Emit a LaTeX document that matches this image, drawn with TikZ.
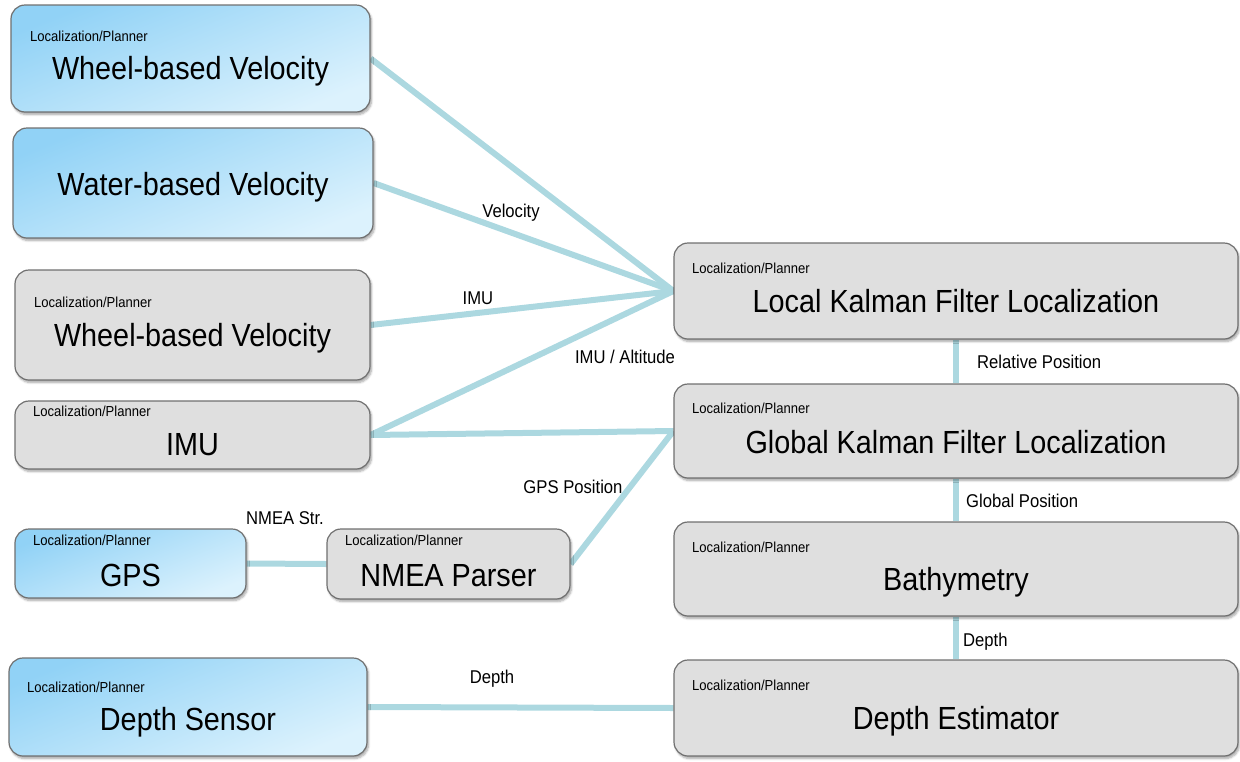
\documentclass[tikz,border=0pt]{standalone}
\usepackage{fontspec}
\setmainfont{Liberation Sans}
\newfontfamily\narrowfont[FakeStretch=0.9]{Liberation Sans}
\usetikzlibrary{shadows.blur}
\pgfdeclarelayer{background}
\pgfsetlayers{background,main}

\definecolor{wireblue}{RGB}{172,216,224}
\definecolor{boxedge}{RGB}{112,112,112}
\definecolor{boxgray}{RGB}{223,223,223}
\definecolor{skytop}{RGB}{145,210,246}
\definecolor{skybot}{RGB}{220,242,253}

\tikzset{
  module/.style={draw=boxedge, line width=1.2pt, rounded corners=14pt, inner sep=0pt,
    blur shadow={shadow xshift=1.5pt, shadow yshift=-2.5pt, shadow blur steps=6, shadow opacity=35}},
  graymod/.style={module, fill=boxgray},
  bluemod/.style={module, top color=skytop, bottom color=skybot, shading angle=22},
  wire/.style={draw=wireblue, line width=6pt},
  title/.style={anchor=base, inner sep=0pt, font=\narrowfont\fontsize{32}{36}\selectfont},
  subtitle/.style={anchor=base west, inner sep=0pt, font=\narrowfont\fontsize{14.5}{16}\selectfont},
  wirelabel/.style={anchor=base, inner sep=0pt, font=\narrowfont\fontsize{18.5}{20}\selectfont},
}

% module box from its corners: name, style, x1, y1, x2, y2
\newcommand\modulebox[6]{%
  \node[#2, minimum width={(#5-#3)*1pt}, minimum height={(#6-#4)*1pt}]
    (#1) at ({(#3+#5)/2},{(#4+#6)/2}) {};}

\begin{document}
\begin{tikzpicture}[x=1pt,y=-1pt]
\useasboundingbox (0,0) rectangle (1240,761);

% sources on the left
\modulebox{wheelA}{bluemod}{11}{5}{370}{112}
\modulebox{water}{bluemod}{13}{128}{373}{238}
\modulebox{wheelB}{graymod}{15}{270}{370}{380}
\modulebox{imu}{graymod}{15}{401}{370}{469}
\modulebox{gps}{bluemod}{15}{529}{246}{598}
\modulebox{nmea}{graymod}{327}{529}{570}{599}
\modulebox{depth}{bluemod}{9}{658}{367}{756}
% processing chain on the right
\modulebox{lkf}{graymod}{674}{243}{1238}{339}
\modulebox{gkf}{graymod}{674}{384}{1238}{478}
\modulebox{bathy}{graymod}{674}{522}{1238}{616}
\modulebox{dest}{graymod}{674}{660}{1238}{756}

% box texts
\node[subtitle] (wheelA-sub) at (30,41) {Localization/Planner};
\node[title] (wheelA-t) at (190.5,79) {Wheel-based Velocity};
\node[title] (water-t) at (193,195) {Water-based Velocity};
\node[subtitle] (wheelB-sub) at (34,307) {Localization/Planner};
\node[title] (wheelB-t) at (192.5,346) {Wheel-based Velocity};
\node[subtitle] (imu-sub) at (33,416) {Localization/Planner};
\node[title] (imu-t) at (192.5,455) {IMU};
\node[subtitle] (gps-sub) at (33,545) {Localization/Planner};
\node[title] (gps-t) at (130.5,586) {GPS};
\node[subtitle] (nmea-sub) at (345,545) {Localization/Planner};
\node[title] (nmea-t) at (448.5,586) {NMEA Parser};
\node[subtitle] (depth-sub) at (27,692) {Localization/Planner};
\node[title] (depth-t) at (188,730) {Depth Sensor};
\node[subtitle] (lkf-sub) at (692,273) {Localization/Planner};
\node[title] (lkf-t) at (956,312) {Local Kalman Filter Localization};
\node[subtitle] (gkf-sub) at (692,413) {Localization/Planner};
\node[title] (gkf-t) at (956,453) {Global Kalman Filter Localization};
\node[subtitle] (bathy-sub) at (692,552) {Localization/Planner};
\node[title] (bathy-t) at (956,590) {Bathymetry};
\node[subtitle] (dest-sub) at (692,690) {Localization/Planner};
\node[title] (dest-t) at (956,729) {Depth Estimator};

% connectors
\begin{pgfonlayer}{background}
\draw[wire] (wheelA.east) -- (lkf.west);
\draw[wire] (water.east) -- (lkf.west);
\draw[wire] (wheelB.east) -- (lkf.west);
\draw[wire] (imu.east) -- (lkf.west);
\draw[wire] (imu.east) -- (gkf.west);
\draw[wire] (nmea.east) -- (gkf.west);
\draw[wire] (gps.east) -- (nmea.west);
\draw[wire] (depth.east) -- (dest.west);
\draw[wire] (lkf.south) -- (gkf.north);
\draw[wire] (gkf.south) -- (bathy.north);
\draw[wire] (bathy.south) -- (dest.north);
\end{pgfonlayer}

% connector labels
\node[wirelabel] (l-vel) at (511,217) {Velocity};
\node[wirelabel] (l-imu) at (478,304) {IMU};
\node[wirelabel] (l-alt) at (625,363) {IMU / Altitude};
\node[wirelabel] (l-gpspos) at (573,493) {GPS Position};
\node[wirelabel] (l-nmea) at (285,524) {NMEA Str.};
\node[wirelabel] (l-depth) at (492,683) {Depth};
\node[wirelabel, anchor=base west] (l-rel) at (977,368) {Relative Position};
\node[wirelabel, anchor=base west] (l-glob) at (966,507) {Global Position};
\node[wirelabel, anchor=base west] (l-depth2) at (963,646) {Depth};
\end{tikzpicture}
\end{document}
